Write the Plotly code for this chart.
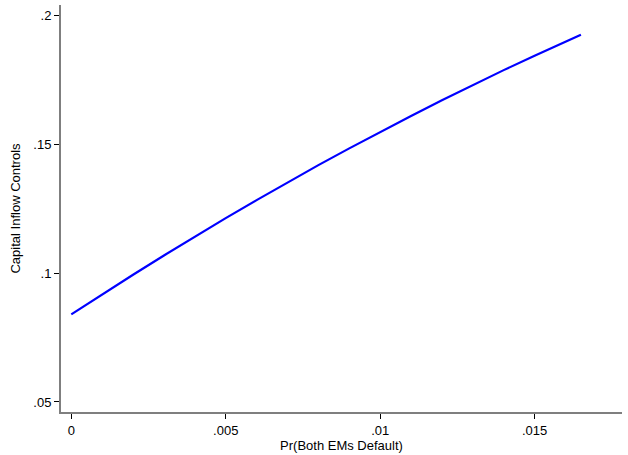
import plotly.graph_objects as go

# Probability that both emerging markets default
pr_both_default = [0.0, 0.001, 0.002, 0.003, 0.004, 0.005, 0.006, 0.007, 0.008,
                   0.009, 0.010, 0.011, 0.012, 0.013, 0.014, 0.015, 0.016, 0.0165]
# Optimal capital inflow controls
inflow_controls = [0.0840, 0.0918, 0.0994, 0.1069, 0.1142, 0.1214, 0.1284, 0.1353,
                   0.1420, 0.1485, 0.1549, 0.1611, 0.1672, 0.1731, 0.1789, 0.1845,
                   0.1900, 0.1926]

x_tickvals = [0, 0.005, 0.01, 0.015]
x_ticktext = ["0", ".005", ".01", ".015"]
y_tickvals = [0.05, 0.10, 0.15, 0.20]
y_ticktext = [".05", ".1", ".15", ".2"]

font = dict(family="Liberation Sans, Arial, sans-serif", size=13, color="black")

fig = go.Figure(
    go.Scatter(
        x=pr_both_default,
        y=inflow_controls,
        mode="lines",
        line=dict(color="#0000ff", width=2.2),
        hoverinfo="skip",
    )
)

fig.update_layout(
    width=628,
    height=455,
    margin=dict(l=61, r=6, t=5, b=43),
    paper_bgcolor="white",
    plot_bgcolor="white",
    showlegend=False,
    font=font,
    xaxis=dict(
        range=[-0.000333, 0.01783],
        tickvals=x_tickvals,
        ticktext=x_ticktext,
        ticks="outside",
        ticklen=5,
        tickwidth=1,
        tickcolor="black",
        showline=True,
        linecolor="#7f7f7f",
        linewidth=2,
        showgrid=False,
        zeroline=False,
        title=dict(text="Pr(Both EMs Default)", font=font, standoff=2),
        tickfont=font,
    ),
    yaxis=dict(
        range=[0.0461, 0.2042],
        tickvals=y_tickvals,
        ticktext=y_ticktext,
        ticks="outside",
        ticklen=5,
        tickwidth=1,
        tickcolor="black",
        showline=True,
        linecolor="#7f7f7f",
        linewidth=2,
        showgrid=False,
        zeroline=False,
        title=dict(text="Capital Inflow Controls", font=font, standoff=10),
        tickfont=font,
    ),
)

fig.write_html("out.html")
